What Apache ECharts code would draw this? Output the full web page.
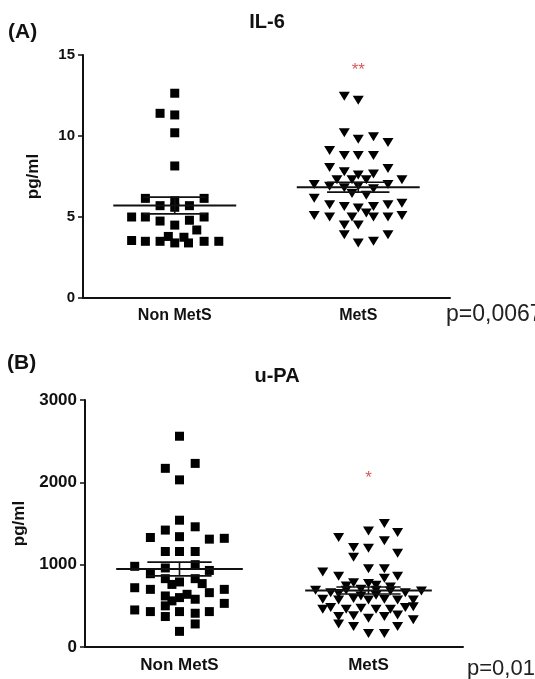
<!DOCTYPE html>
<html lang="en">
<head>
  <meta charset="UTF-8">
  <title>IL-6 / u-PA</title>
  <script src="https://cdn.jsdelivr.net/npm/echarts@6/dist/echarts.min.js"></script>
  <style>
    * {
      margin: 0;
      padding: 0
    }

    html, body {
      width: 100%;
      height: 100%;
      background: #fff;
    }

    #main {
      width: 535px;
      height: 679px;
    }
  </style>
</head>
<body>
<div id="main"></div>
<script type="text/javascript">
  var groups = ['Non MetS', 'MetS'];

  // (A) IL-6 pg/ml, offsets = horizontal spread of the dots within a group
  var il6NonValues = [12.64, 11.4, 11.3, 10.2, 8.15, 6.15, 6.15, 6.0, 5.7, 5.6, 5.7,
    5.0, 5.0, 4.75, 4.5, 4.8, 5.0, 4.2, 3.55, 3.5, 3.5, 3.8, 3.4, 3.75, 3.4, 3.5, 3.5];
  var il6NonOffsets = [0, -0.08, 0, 0, 0, -0.16, 0.16, 0, -0.08, 0, 0.08,
    -0.235, -0.16, -0.08, 0, 0.08, 0.16, 0.12, -0.235, -0.16, -0.08, -0.035, 0, 0.05, 0.075, 0.16, 0.24];

  var il6MetsValues = [12.45, 12.2, 10.2, 9.8, 9.95, 9.6, 9.1, 8.8, 8.8, 8.8,
    8.05, 7.8, 7.6, 7.65, 8.0, 7.3, 7.3, 7.3, 7.3, 7.0, 6.9, 6.8, 6.9, 6.75, 7.0,
    6.15, 6.35, 6.45, 5.75, 5.65, 5.55, 5.65, 5.75, 5.85, 5.1, 5.0, 5.0, 5.25, 5.0, 5.0, 5.1,
    4.5, 4.5, 3.9, 3.4, 3.5, 3.9];
  var il6MetsOffsets = [-0.076, 0, -0.076, 0, 0.083, 0.162, -0.156, -0.076, 0, 0.083,
    -0.156, -0.076, 0, 0.083, 0.162, -0.116, -0.034, 0.044, 0.238, -0.24, -0.156, -0.076, 0, 0.083, 0.162,
    -0.24, 0.044, -0.034, -0.156, -0.076, 0, 0.083, 0.162, 0.238, -0.24, -0.156, -0.034, 0.044, 0.083, 0.162, 0.238,
    -0.076, 0, -0.076, 0, 0.083, 0.162];

  // (B) u-PA pg/ml
  var upaNonValues = [2560, 2170, 2230, 2030, 1540, 1420, 1460, 1330, 1340, 1310, 1320,
    1160, 1160, 1160, 980, 890, 930, 1000, 960, 830, 790, 830, 770, 760,
    720, 700, 700, 660, 620, 600, 580, 640, 560, 530, 500,
    450, 430, 430, 410, 430, 370, 280, 190];
  var upaNonOffsets = [0, -0.075, 0.083, 0, 0, -0.075, 0.083, -0.154, 0, 0.158, 0.237,
    -0.075, 0, 0.083, -0.237, -0.154, 0.158, 0.083, -0.075, -0.075, 0, 0.083, 0.12, -0.04,
    -0.237, -0.154, 0.237, 0.158, -0.075, 0, 0.083, 0.04, -0.04, 0.237, -0.075,
    -0.237, -0.154, 0, 0.083, 0.158, -0.075, 0.083, 0];

  var upaMetsValues = [1500, 1410, 1390, 1330, 1290, 1210, 1200, 1090, 1140,
    910, 860, 950, 950, 835, 860, 780, 770, 750, 740, 730,
    690, 660, 690, 700, 690, 680, 660, 680, 650,
    580, 570, 590, 570, 580, 570, 570, 620, 630,
    460, 480, 460, 470, 460, 460, 480, 490,
    370, 380, 350, 370, 390, 330, 250, 250, 280, 165, 165];
  var upaMetsOffsets = [0.084, 0, 0.154, -0.158, 0.084, -0.079, 0, -0.079, 0.154,
    -0.242, -0.158, 0, 0.084, 0.084, 0.154, -0.079, 0, 0.04, -0.118, 0.116,
    -0.28, -0.2, -0.118, -0.04, 0.04, 0.116, 0.195, 0.28, -0.158,
    -0.242, -0.158, -0.079, 0, 0.084, 0.154, 0.237, -0.04, 0.04,
    -0.242, -0.2, -0.118, -0.04, 0.04, 0.116, 0.195, 0.237,
    -0.158, -0.079, 0, 0.084, 0.154, 0.237, -0.079, 0.154, -0.158, 0, 0.084];

  var il6Ticks = [0, 15, 5];      // min, max, interval
  var upaTicks = [0, 3000, 1000];
  var il6Star = [1, 14.3, '**'];
  var upaStar = [1, 2100, '*'];

  var FONT = '"Liberation Sans", Arial, sans-serif';
  var INK = '#111';

  function points(center, offsets, values) {
    var out = [];
    for (var i = 0; i < values.length; i++) {
      out.push([center + offsets[i], values[i]]);
    }
    return out;
  }

  function meanSem(center, values) {
    var n = values.length, sum = 0, ss = 0;
    for (var i = 0; i < n; i++) sum += values[i];
    var mean = sum / n;
    for (var j = 0; j < n; j++) ss += (values[j] - mean) * (values[j] - mean);
    return [center, mean, Math.sqrt(ss / (n - 1)) / Math.sqrt(n)];
  }

  function renderMean(params, api) {
    var x = api.value(0), m = api.value(1), s = api.value(2);
    function seg(x1, y1, x2, y2, w) {
      var a = api.coord([x1, y1]), b = api.coord([x2, y2]);
      return {type: 'line', shape: {x1: a[0], y1: a[1], x2: b[0], y2: b[1]}, style: {stroke: INK, lineWidth: w}};
    }
    return {
      type: 'group',
      children: [
        seg(x - 0.335, m, x + 0.335, m, 2),
        seg(x - 0.17, m + s, x + 0.17, m + s, 1.6),
        seg(x - 0.17, m - s, x + 0.17, m - s, 1.6),
        seg(x, m - s, x, m + s, 1.6)
      ]
    };
  }

  function catAxis(grid, size, margin) {
    return {
      type: 'category', gridIndex: grid, data: groups, boundaryGap: true,
      axisLine: {onZero: false, lineStyle: {color: INK, width: 2}},
      axisTick: {alignWithLabel: true, length: 6, lineStyle: {color: INK, width: 1.5}},
      axisLabel: {color: INK, fontFamily: FONT, fontWeight: 'bold', fontSize: size, margin: margin},
      splitLine: {show: false}
    };
  }

  function hiddenAxis(grid) {
    return {type: 'value', gridIndex: grid, min: -0.5, max: 1.5, show: false, splitLine: {show: false}};
  }

  function valAxis(grid, ticks, size, gap) {
    return {
      type: 'value', gridIndex: grid, min: ticks[0], max: ticks[1], interval: ticks[2],
      name: 'pg/ml', nameLocation: 'middle', nameGap: gap,
      nameTextStyle: {color: INK, fontFamily: FONT, fontWeight: 'bold', fontSize: 17},
      axisLine: {show: true, onZero: false, lineStyle: {color: INK, width: 2}},
      axisTick: {show: true, length: 5, lineStyle: {color: INK, width: 1.5}},
      axisLabel: {color: INK, fontFamily: FONT, fontWeight: 'bold', fontSize: size, margin: 8,
        formatter: function (v) { return String(v); }},
      splitLine: {show: false}
    };
  }

  function dots(xi, yi, data, symbol, size, rotate) {
    return {
      type: 'scatter', xAxisIndex: xi, yAxisIndex: yi, data: data,
      symbol: symbol, symbolSize: size, symbolRotate: rotate,
      itemStyle: {color: '#000', opacity: 1}, z: 2, silent: true
    };
  }

  function meanSeries(xi, yi, data) {
    return {
      type: 'custom', xAxisIndex: xi, yAxisIndex: yi, data: data,
      renderItem: renderMean, encode: {x: 0, y: 1}, z: 4, silent: true
    };
  }

  function star(xi, yi, s) {
    return {
      type: 'scatter', xAxisIndex: xi, yAxisIndex: yi, data: [[s[0], s[1]]],
      symbolSize: 1, itemStyle: {color: 'rgba(0,0,0,0)'}, silent: true,
      label: {show: true, position: 'inside', formatter: s[2], color: '#c83232',
        fontFamily: FONT, fontSize: 17, offset: [0, 4]}
    };
  }

  var myChart = echarts.init(document.getElementById('main'));
  myChart.setOption({
    animation: false,
    backgroundColor: '#fff',
    grid: [
      {left: 83, top: 55, width: 367, height: 243},
      {left: 85, top: 400, width: 378, height: 247}
    ],
    xAxis: [catAxis(0, 16, 10), hiddenAxis(0), catAxis(1, 17, 10), hiddenAxis(1)],
    yAxis: [valAxis(0, il6Ticks, 15, 41), valAxis(1, upaTicks, 17, 51)],
    graphic: [
      {type: 'text', x: 8, y: 32, style: {text: '(A)', font: 'bold 21px ' + FONT, fill: INK, verticalAlign: 'middle'}},
      {type: 'text', x: 267, y: 22, style: {text: 'IL-6', font: 'bold 20px ' + FONT, fill: INK, align: 'center', verticalAlign: 'middle'}},
      {type: 'text', x: 446, y: 315, style: {text: 'p=0,0067', font: '23px ' + FONT, fill: '#222', verticalAlign: 'middle'}},
      {type: 'text', x: 7, y: 363, style: {text: '(B)', font: 'bold 21px ' + FONT, fill: INK, verticalAlign: 'middle'}},
      {type: 'text', x: 277, y: 376, style: {text: 'u-PA', font: 'bold 20px ' + FONT, fill: INK, align: 'center', verticalAlign: 'middle'}},
      {type: 'text', x: 467, y: 669, style: {text: 'p=0,01', font: '22px ' + FONT, fill: '#222', verticalAlign: 'middle'}}
    ],
    series: [
      dots(1, 0, points(0, il6NonOffsets, il6NonValues), 'rect', 9, 0),
      dots(1, 0, points(1, il6MetsOffsets, il6MetsValues), 'triangle', [11, 9], 180),
      meanSeries(1, 0, [meanSem(0, il6NonValues), meanSem(1, il6MetsValues)]),
      star(1, 0, il6Star),
      dots(3, 1, points(0, upaNonOffsets, upaNonValues), 'rect', 9, 0),
      dots(3, 1, points(1, upaMetsOffsets, upaMetsValues), 'triangle', [11, 9], 180),
      meanSeries(3, 1, [meanSem(0, upaNonValues), meanSem(1, upaMetsValues)]),
      star(3, 1, upaStar)
    ]
  });
</script>
</body>
</html>
